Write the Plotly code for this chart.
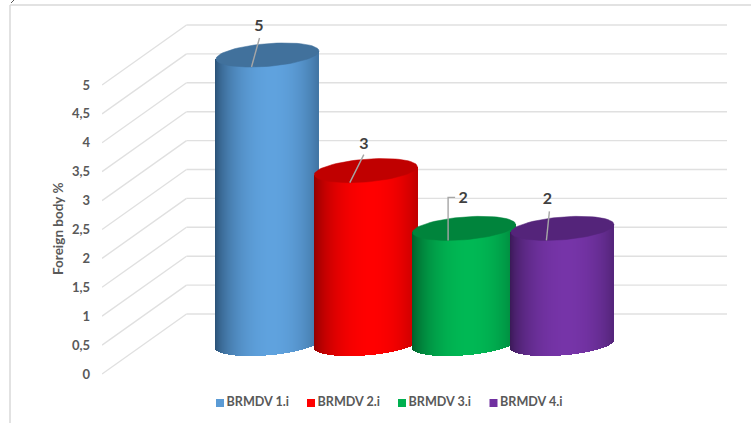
import math
import plotly.graph_objects as go

# ---- data ----
categories = ["BRMDV 1.i", "BRMDV 2.i", "BRMDV 3.i", "BRMDV 4.i"]
values = [5, 3, 2, 2]
tick_values = [0, 0.5, 1, 1.5, 2, 2.5, 3, 3.5, 4, 4.5, 5]
tick_labels = ["0", "0,5", "1", "1,5", "2", "2,5", "3", "3,5", "4", "4,5", "5"]
axis_title = "Foreign body %"

# ---- style ----
light = [(95, 162, 222), (255, 0, 0), (0, 184, 84), (118, 52, 168)]
dark = [(40, 78, 114), (140, 0, 0), (0, 90, 40), (56, 24, 84)]
top_colors = ["#41719C", "#C00000", "#00843C", "#54247A"]
legend_colors = ["#5B9BD5", "#FF0000", "#00B050", "#7030A0"]
GRID = "#E0E0E0"
TEXT = "#595959"
FONT = "Lato"

W, H = 751, 423
ML, MR, MT, MB = 102, 24, 20, 8
UX = 98.3     # px per category step
UY = 57.8     # px per value unit
Y0_PX = 374   # px of the value-axis zero
X0_PX = 267.5 # px of first cylinder centre
PW, PH = W - ML - MR, H - MT - MB
xr = [(ML - X0_PX) / UX, (W - MR - X0_PX) / UX]
yr = [(Y0_PX - (H - MB)) / UY, (Y0_PX - MT) / UY]

def dx(px): return px / UX
def dy(px): return px / UY

FLOOR = dy(30)          # cylinder base centre above the front-axis zero
SEMI_A, SEMI_B, TILT = 51.5, 11.4, 4.0  # px: ellipse half width, half height, slant
DEPTH_X, DEPTH_Y = dx(84.5), dy(60)

fig = go.Figure()

# receding gridlines of the 3-D wall
shapes = []
for v in tick_values:
    xa, xb, xc = xr[0], xr[0] + DEPTH_X, xr[1]
    ya, yb = v, v + DEPTH_Y
    for p, q, r, s in ((xa, ya, xb, yb), (xb, yb, xc, yb)):
        shapes.append(dict(type="line", layer="below", xref="x", yref="y", x0=p, y0=q, x1=r, y1=s,
                           line=dict(color=GRID, width=1.4)))

# frame pieces of the picture (left and top rule)
def px_x(p): return (p - ML) / PW
def px_y(p): return 1 - (p - MT) / PH
for a, b, c, d, col, wd in ((10, 5, 10, 423, "#D9D9D9", 1.5), (10, 5, 751, 5, "#D9D9D9", 1.5),
                            (11, 3, 14, 0, "#595959", 1)):
    shapes.append(dict(type="line", xref="paper", yref="paper", x0=px_x(a), y0=px_y(b), x1=px_x(c), y1=px_y(d),
                       line=dict(color=col, width=wd)))

# cylinder bodies: one bar trace per series, one narrow bar per shaded strip
N = 103
for i, (cat, val) in enumerate(zip(categories, values)):
    xs, bases, heights, colors = [], [], [], []
    for k in range(N):
        t = -1 + 2 * (k + 0.5) / N
        xs.append(i + dx(SEMI_A) * t)
        low = FLOOR + dy(-SEMI_B * math.sqrt(1 - t * t) + TILT * t)
        bases.append(low)
        heights.append(FLOOR + val + dy(TILT * t) - low)
        f = max(0.0, 1 - ((t - 0.1) / 1.1) ** 2) ** 0.7
        c = [round(dark[i][j] + (light[i][j] - dark[i][j]) * f) for j in range(3)]
        colors.append(f"rgb({c[0]},{c[1]},{c[2]})")
    fig.add_trace(go.Bar(x=xs, y=heights, base=bases, width=dx(1.15), marker=dict(color=colors, line=dict(width=0)),
                         name=cat, showlegend=False, hoverinfo="skip"))

# top ellipses
for i, val in enumerate(values):
    ex, ey = [], []
    for k in range(73):
        a = 2 * math.pi * k / 72
        ex.append(i + dx(SEMI_A * math.cos(a)))
        ey.append(FLOOR + val + dy(SEMI_B * math.sin(a) + TILT * math.cos(a)))
    fig.add_trace(go.Scatter(x=ex, y=ey, mode="lines", fill="toself", fillcolor=top_colors[i],
                             line=dict(color=top_colors[i], width=0.5), showlegend=False, hoverinfo="skip",
                             cliponaxis=False))

# leader lines (px offsets from the cylinder's top-centre, y downward)
leader_paths = [
    [(-16, 12), (-8, -17)],
    [(-16, 12), (-2, -16)],
    [(-16, 12), (-16, -31), (-9, -31)],
    [(-16, 12), (-13, -17)],
]
for i, val in enumerate(values):
    top = FLOOR + val
    path = leader_paths[i]
    fig.add_trace(go.Scatter(x=[i + dx(p[0]) for p in path], y=[top - dy(p[1]) for p in path], mode="lines",
                             line=dict(color="#A6A6A6", width=1.4), showlegend=False, hoverinfo="skip",
                             cliponaxis=False))
# data labels
label_pos = [(-8.5, 28), (-2, 26), (-1, 29), (-15, 28)]
fig.add_trace(go.Scatter(
    x=[i + dx(label_pos[i][0]) for i in range(4)],
    y=[FLOOR + v + dy(label_pos[i][1]) for i, v in enumerate(values)],
    mode="text", text=[str(v) for v in values], textposition="middle center",
    textfont=dict(family=FONT, size=16, color="#404040", weight="bold"),
    showlegend=False, hoverinfo="skip", cliponaxis=False))

# legend row
legend_px = [220, 311, 402, 493.5]
LEG_V = (Y0_PX - 403) / UY
for i, cat in enumerate(categories):
    xm = (legend_px[i] - X0_PX) / UX
    fig.add_trace(go.Scatter(
        x=[xm], y=[LEG_V], mode="markers",
        marker=dict(symbol="square", size=8, color=legend_colors[i]),
        showlegend=False, hoverinfo="skip", cliponaxis=False))
    fig.add_trace(go.Scatter(
        x=[xm + dx(6.5)], y=[LEG_V], mode="text", text=[cat], textposition="middle right",
        textfont=dict(family=FONT, size=12.6, color=TEXT, weight="bold"),
        showlegend=False, hoverinfo="skip", cliponaxis=False))

fig.update_layout(
    width=W, height=H, autosize=False,
    margin=dict(l=ML, r=MR, t=MT, b=MB, pad=0),
    paper_bgcolor="white", plot_bgcolor="white",
    barmode="overlay", bargap=0, showlegend=False, shapes=shapes,
    xaxis=dict(range=xr, visible=False, fixedrange=True),
    yaxis=dict(
        range=yr, tickmode="array", tickvals=tick_values, ticktext=tick_labels,
        showgrid=False, zeroline=False, showline=False, ticks="", ticklabelstandoff=11,
        tickfont=dict(family=FONT, size=13, color=TEXT, weight="bold"),
        fixedrange=True,
    ),
    annotations=[dict(text=axis_title, textangle=-90, xref="paper", yref="paper", showarrow=False,
                      x=px_x(58), y=px_y(229), xanchor="center", yanchor="middle",
                      font=dict(family=FONT, size=13.5, color=TEXT, weight="bold"))],
)
fig.write_html("out.html", config=dict(displayModeBar=False, responsive=False),
               post_script="document.body.style.margin='0';document.body.style.overflow='hidden';")
